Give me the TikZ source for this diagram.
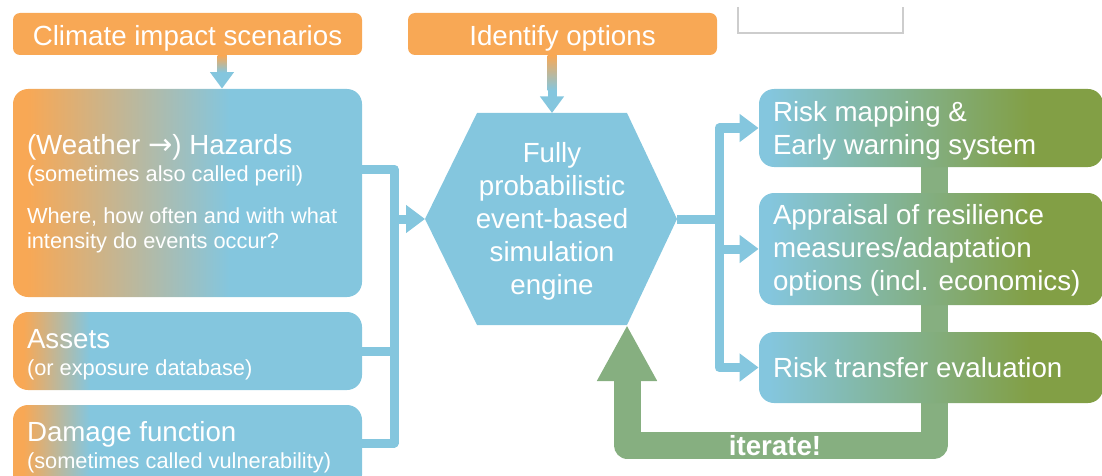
\documentclass[tikz,border=0pt]{standalone}
\usepackage{fontspec}
\setmainfont{Liberation Sans}
\newfontfamily\arrowfont{DejaVu Sans}
\usetikzlibrary{arrows.meta,positioning,backgrounds}

\definecolor{orangeC}{RGB}{248,168,85}
\definecolor{blueC}{RGB}{132,198,222}
\definecolor{greenC}{RGB}{130,159,69}
\definecolor{iterC}{RGB}{134,175,128}
\definecolor{frameC}{RGB}{205,205,205}

\pgfdeclarehorizontalshading{hazshade}{100bp}{color(0bp)=(orangeC); color(27bp)=(orangeC); color(56bp)=(blueC); color(100bp)=(blueC)}
\pgfdeclarehorizontalshading{inshade}{100bp}{color(0bp)=(orangeC); color(26.5bp)=(orangeC); color(36bp)=(blueC); color(100bp)=(blueC)}
\pgfdeclarehorizontalshading{outshade}{100bp}{color(0bp)=(blueC); color(26.5bp)=(blueC); color(64.5bp)=(greenC); color(100bp)=(greenC)}

\newcommand\bigtxt{\fontsize{13.85}{16.5}\selectfont}
\newcommand\smalltxt{\fontsize{10.9}{12.5}\selectfont}

\begin{document}
\begin{tikzpicture}[x=0.5pt,y=-0.5pt,
    topbox/.style={fill=orangeC,rounded corners=3.5pt,minimum width=#1,minimum height=21pt,
      text=white,font=\bigtxt,inner sep=2pt,text height=11.5pt,text depth=0pt},
    panel/.style={shade,rounded corners=7.5pt,minimum width=#1,inner sep=0pt},
    txt/.style={text=white,font=\bigtxt,inner sep=0pt,align=left},
    link/.style={draw=blueC,line width=4.5pt,line join=round},
    feed/.style={link,-{Triangle[length=9.5pt,width=13.5pt]}},
    drop/.style={draw=blueC,line width=4.5pt,-{Triangle[length=8.25pt,width=11.5pt]}},
    iterline/.style={draw=iterC,line width=13.5pt,line join=round,-{Triangle[length=28pt,width=28pt]}}]
    \useasboundingbox (0,0) rectangle (1102,476);
    \clip (0,0) rectangle (1102,476);
    \draw[frameC,line width=0.6pt] (738,7) |- (903,33) -- (903,7);
    \node[topbox=174.5pt] (climate) at (187.5,34) {Climate impact scenarios};
    \node[topbox=154.5pt] (options) at (562.5,34) {Identify options};
    \node[panel=174.5pt,minimum height=104pt,shading=hazshade] (haz) at (187.5,193) {};
    \node[panel=174.5pt,minimum height=39pt,shading=inshade] (assets) at (187.5,351) {};
    \node[panel=174.5pt,minimum height=42.5pt,shading=inshade] (damage) at (187.5,447.5) {};
    \node[panel=172pt,minimum height=39pt,shading=outshade] (mapping) at (931,128) {};
    \node[panel=172pt,minimum height=56pt,shading=outshade] (appraisal) at (931,249) {};
    \node[panel=172pt,minimum height=35.5pt,shading=outshade] (transfer) at (931,367.5) {};
    \node[txt,below right=22.8pt and 7pt of haz.north west] (haz-t) {(Weather {\arrowfont\fontsize{14.5}{16.5}\selectfont →}) Hazards\\[-3pt]
      {\smalltxt (sometimes also called peril)}\\[4.5pt]
      {\smalltxt Where, how often and with what}\\[-4pt]
      {\smalltxt intensity do events occur?}};
    \node[txt,below right=8.5pt and 7pt of assets.north west] (assets-t) {Assets\\[-3pt]
      {\smalltxt (or exposure database)}};
    \node[txt,below right=8.3pt and 7pt of damage.north west] (damage-t) {Damage function\\[-3pt]
      {\smalltxt (sometimes called vulnerability)}};
    \node[txt,below right=6.3pt and 7pt of mapping.north west] (mapping-t) {Risk mapping \&\\Early warning system};
    \node[txt,below right=5.8pt and 7pt of appraisal.north west] (appraisal-t) {Appraisal of resilience\\measures/adaptation\\options (incl. economics)};
    \node[txt,below right=12.8pt and 7pt of transfer.north west] (transfer-t) {Risk transfer evaluation};
    \coordinate (hexW) at (425,219);
    \coordinate (hexNW) at (477,113);
    \coordinate (hexN) at (552,113);
    \coordinate (hexNE) at (627,113);
    \coordinate (hexE) at (677,219);
    \coordinate (hexSE) at (627,325);
    \coordinate (hexSW) at (477,325);
    \fill[blueC] (hexW) -- (hexNW) -- (hexNE) -- (hexE) -- (hexSE) -- (hexSW) -- cycle;
    \node[txt,align=center,anchor=north] (engine) at (552,142) {Fully\\probabilistic\\event-based\\simulation\\engine};
    \draw[drop] ([xshift=17.25pt]climate.south) -- ([xshift=17.25pt]haz.north);
    \shade[top color=orangeC,bottom color=blueC] ([xshift=15pt]climate.south) rectangle ([xshift=19.5pt,yshift=-8.5pt]climate.south);
    \draw[drop] ([xshift=-5.25pt]options.south) -- (hexN);
    \shade[top color=orangeC,bottom color=blueC] ([xshift=-7.5pt]options.south) rectangle ([xshift=-3pt,yshift=-17.5pt]options.south);
    \coordinate (lbus) at (394,219);
    \coordinate (rbus) at (719,219);
    \draw[link] ([yshift=12pt]haz.east) -| (lbus) |- ([yshift=2.25pt]damage.east);
    \draw[link] (assets.east) -- (assets.east -| lbus);
    \draw[feed] (lbus) -- (hexW);
    \draw[link] (hexE) -- (rbus);
    \draw[feed] (rbus) |- (mapping.west);
    \draw[feed] (rbus) |- (appraisal.west);
    \draw[feed] (rbus) |- (transfer.west);
    \coordinate (iterbend) at (627,445);
    \begin{scope}[on background layer]
      \draw[iterline] ([xshift=1.5pt]mapping.south) |- (iterbend) -- (hexSE);
    \end{scope}
    \node[txt,font=\bigtxt\bfseries,anchor=base] (iterlabel) at (775,455) {iterate!};
\end{tikzpicture}
\end{document}
